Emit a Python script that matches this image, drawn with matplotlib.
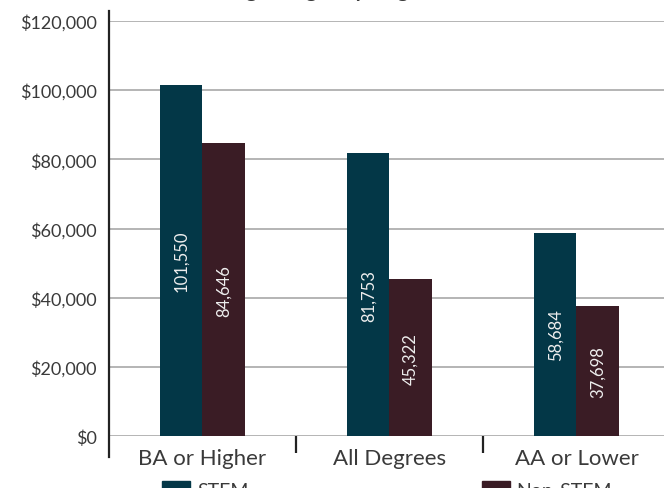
import matplotlib
matplotlib.use("Agg")
import matplotlib.pyplot as plt
from matplotlib.patches import Patch

plt.rcParams['font.family'] = ['Lato', 'DejaVu Sans']

# data
categories = ["BA or Higher", "All Degrees", "AA or Lower"]
stem = [101550, 81753, 58684]
non_stem = [84646, 45322, 37698]
yticks = [0, 20000, 40000, 60000, 80000, 100000, 120000]

stem_color = "#033747"
non_stem_color = "#3a1c25"
text_color = "#3a3a3a"

fig = plt.figure(figsize=(6.64, 4.89), dpi=100)
ax = fig.add_axes([109 / 664, 1 - 437 / 489, 561 / 664, 415 / 489])

x = list(range(len(categories)))
w = 0.225
b1 = ax.bar([i - w / 2 for i in x], stem, width=w, color=stem_color, zorder=3)
b2 = ax.bar([i + w / 2 for i in x], non_stem, width=w, color=non_stem_color, zorder=3)

# values written inside the bars
for bars, vals in [(b1, stem), (b2, non_stem)]:
    for bar, v in zip(bars, vals):
        ax.text(bar.get_x() + bar.get_width() / 2, v / 2, f"{v:,}",
                rotation=90, ha="center", va="center", color="#eeeeee",
                fontsize=12, zorder=4)

ax.set_xlim(-0.5, 2.5)
ax.set_ylim(0, 120000)
ax.set_yticks(yticks)
ax.set_yticklabels([f"${v:,}" for v in yticks])
ax.yaxis.grid(True, color="#a8a8a8", linewidth=1.2, zorder=0)
ax.set_axisbelow(True)

for s in ax.spines.values():
    s.set_visible(False)

# y axis line runs a bit past both ends, separators hang below the baseline
ax.plot([-0.5, -0.5], [-6200, 123000], color="#222222", lw=1.6, clip_on=False, zorder=5)
ax.vlines([0.5, 1.5], -4800, 0, color="#222222", lw=1.6, clip_on=False)

ax.set_xticks(x)
ax.set_xticklabels(categories)
ax.tick_params(axis="x", length=0, pad=9, labelsize=16, labelcolor=text_color)
ax.tick_params(axis="y", length=0, pad=9, labelsize=13, labelcolor=text_color)

# title sits above the visible area, only descenders show
fig.text(0.475, 1.006, "Average Wages by Degree", ha="center", va="baseline",
         fontsize=15, fontweight="bold", color=text_color)

handles = [Patch(color=stem_color, label="STEM"), Patch(color=non_stem_color, label="Non-STEM")]
fig.legend(handles=handles, loc="upper left", bbox_to_anchor=(162 / 664, 1 - 482 / 489),
           ncol=2, frameon=False, fontsize=14, handlelength=1.45, handleheight=1.0,
           handletextpad=0.35, columnspacing=12, borderpad=0, borderaxespad=0,
           labelcolor=text_color)

fig.savefig("out.png", dpi=100)
